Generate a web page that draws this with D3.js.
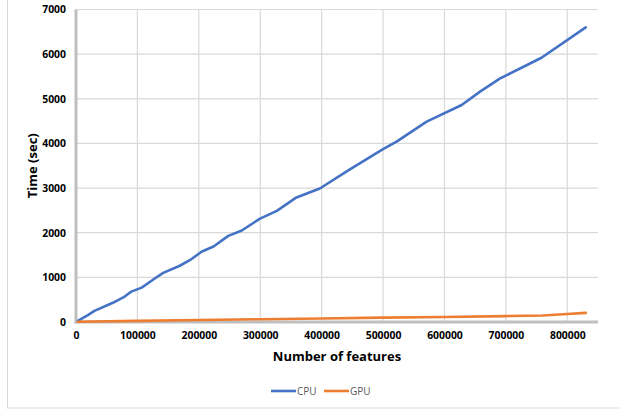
<!DOCTYPE html>
<html>
<head>
<meta charset="utf-8">
<script src="https://cdn.jsdelivr.net/npm/d3@7"></script>
<style>
  html, body { margin: 0; padding: 0; background: #fff; }
  svg { display: block; }
</style>
</head>
<body>
<svg id="chart" width="619" height="410"></svg>
<script>
// ---- data ----
const cpuFeatures = [3000, 20000, 30000, 60000, 77000, 90000, 107000, 130000, 142000, 169000, 186000, 205000, 224000, 248000, 270000, 299000, 327000, 359000, 397000, 446000, 500000, 522000, 571000, 628000, 658000, 690000, 758000, 830000];
const cpuTimes    = [25, 160, 250, 430, 550, 680, 770, 990, 1100, 1260, 1390, 1580, 1690, 1930, 2050, 2310, 2490, 2790, 2990, 3420, 3870, 4040, 4490, 4860, 5160, 5450, 5920, 6600];
const gpuFeatures = [3000, 100000, 200000, 300000, 400000, 500000, 600000, 700000, 760000, 800000, 830000];
const gpuTimes    = [5, 25, 45, 62, 80, 97, 112, 132, 145, 180, 205];
const xTicks = [0, 100000, 200000, 300000, 400000, 500000, 600000, 700000, 800000];
const yTicks = [0, 1000, 2000, 3000, 4000, 5000, 6000, 7000];
const seriesNames = ["CPU", "GPU"];
const seriesColors = ["#4472C4", "#ED7D31"];
const xTitle = "Number of features";
const yTitle = "Time (sec)";

(function () {
const svg = d3.select("#chart");
const font = "'Open Sans', 'Liberation Sans', sans-serif";

// outer chart border (left and bottom visible)
svg.append("rect")
  .attr("x", 7.5).attr("y", -5)
  .attr("width", 640).attr("height", 413)
  .attr("fill", "none").attr("stroke", "#d9d9d9").attr("stroke-width", 1);

const pL = 76, pR = 598, pT = 9.5, pB = 322;
const x = d3.scaleLinear().domain([0, 850000]).range([pL, pR]);
const y = d3.scaleLinear().domain([0, 7000]).range([pB, pT]);

// gridlines
const grid = svg.append("g");
grid.selectAll(".gy").data(yTicks.filter(d => d > 0)).enter().append("line")
  .attr("x1", pL).attr("x2", pR)
  .attr("y1", d => y(d)).attr("y2", d => y(d))
  .attr("stroke", "#d9d9d9").attr("stroke-width", 1.2);
grid.selectAll(".gx").data(xTicks.filter(d => d > 0)).enter().append("line")
  .attr("x1", d => x(d)).attr("x2", d => x(d))
  .attr("y1", pT).attr("y2", pB)
  .attr("stroke", "#d9d9d9").attr("stroke-width", 1.2);

// axes
const xAxis = svg.append("g").attr("transform", `translate(0,${pB})`)
  .call(d3.axisBottom(x).tickValues(xTicks).tickFormat(d3.format("d")).tickSize(0).tickPadding(10));
const yAxis = svg.append("g").attr("transform", `translate(${pL},0)`)
  .call(d3.axisLeft(y).tickValues(yTicks).tickFormat(d3.format("d")).tickSize(0).tickPadding(10));
[xAxis, yAxis].forEach(a => {
  a.select(".domain").remove();
  a.selectAll("text").attr("font-family", font).attr("font-size", 10.4)
    .attr("font-weight", "bold").attr("fill", "#000");
});

// thick axis lines
svg.append("line").attr("x1", pL).attr("x2", pL).attr("y1", pT).attr("y2", pB + 1.5)
  .attr("stroke", "#bfbfbf").attr("stroke-width", 3);
svg.append("line").attr("x1", pL - 1.5).attr("x2", pR).attr("y1", pB).attr("y2", pB)
  .attr("stroke", "#bfbfbf").attr("stroke-width", 3);

// lines
const line = d3.line().x(d => x(d[0])).y(d => y(d[1]));
const cpuData = cpuFeatures.map((f, i) => [f, cpuTimes[i]]);
const gpuData = gpuFeatures.map((f, i) => [f, gpuTimes[i]]);
[cpuData, gpuData].forEach((data, i) => {
  svg.append("path").datum(data).attr("d", line)
    .attr("fill", "none").attr("stroke", seriesColors[i])
    .attr("stroke-width", 2.6).attr("stroke-linejoin", "round").attr("stroke-linecap", "round");
});

// axis titles
svg.append("text").attr("x", (pL + pR) / 2).attr("y", 361)
  .attr("text-anchor", "middle").attr("font-family", font).attr("font-size", 13)
  .attr("font-weight", "bold").attr("fill", "#000").text(xTitle);
svg.append("text").attr("transform", `translate(37,${(pT + pB) / 2}) rotate(-90)`)
  .attr("text-anchor", "middle").attr("font-family", font).attr("font-size", 13)
  .attr("font-weight", "bold").attr("fill", "#000").text(yTitle);

// legend
const legendX = [271, 324];
seriesNames.forEach((name, i) => {
  const g = svg.append("g").attr("transform", `translate(${legendX[i]},391)`);
  g.append("line").attr("x1", 0).attr("x2", 25).attr("y1", 0).attr("y2", 0)
    .attr("stroke", seriesColors[i]).attr("stroke-width", 2.6);
  g.append("text").attr("x", 26).attr("y", 3.8).attr("font-family", font)
    .attr("font-size", 10).attr("fill", "#595959").text(name);
});
})();
</script>
</body>
</html>
